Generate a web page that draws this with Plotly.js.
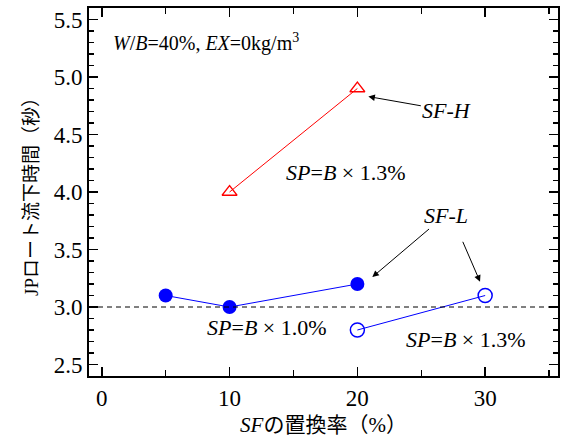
<!DOCTYPE html>
<html>
<head>
<meta charset="utf-8">
<script src="https://cdn.plot.ly/plotly-3.0.1.min.js"></script>
<style>html,body{margin:0;padding:0;background:#fff;}#chart{width:566px;height:439px;}</style>
</head>
<body>
<div id="chart"></div>
<script>
// SF replacement ratio (%) and JP funnel flow time (s)
const sfhX = [10, 20];
const sfhY = [4.0, 4.9];
const sfl10X = [5, 10, 20];
const sfl10Y = [3.1, 3.0, 3.2];
const sfl13X = [20, 30];
const sfl13Y = [2.8, 3.1];
const refLineY = 3.0;
const xTicks = [0, 10, 20, 30];
const yTicks = [2.5, 3.0, 3.5, 4.0, 4.5, 5.0, 5.5];

const serif = 'Liberation Serif, Times New Roman, serif';
const cjk = 'Liberation Serif, Noto Sans CJK JP, serif';

const traces = [
  {
    x: sfhX, y: sfhY, mode: 'lines+markers', type: 'scatter',
    line: {color: '#ff0000', width: 1},
    marker: {symbol: 'triangle-up-open', size: 13, color: '#ff0000', line: {width: 1.3}}
  },
  {
    x: sfl10X, y: sfl10Y, mode: 'lines+markers', type: 'scatter',
    line: {color: '#0000ff', width: 1},
    marker: {symbol: 'circle', size: 14, color: '#0000ff'}
  },
  {
    x: sfl13X, y: sfl13Y, mode: 'lines+markers', type: 'scatter',
    line: {color: '#0000ff', width: 1},
    marker: {symbol: 'circle-open', size: 14, color: '#0000ff', line: {width: 1.5}}
  }
];

const txt = (x, y, text, extra) => Object.assign({
  x: x, y: y, xref: 'x', yref: 'y', text: text, showarrow: false,
  font: {family: serif, size: 22, color: '#000'}
}, extra || {});

// label text placed at the arrow tail, arrow pointing at the marker
const labelArrow = (x, y, ax, ay, text) => ({
  x: x, y: y, ax: ax, ay: ay, xref: 'x', yref: 'y', axref: 'x', ayref: 'y',
  text: text, showarrow: true, arrowhead: 2, arrowsize: 1.3, arrowwidth: 1, arrowcolor: '#000',
  font: {family: serif, size: 22, color: '#000'}
});

const annotations = [
  txt(0.7, 5.3, '<i>W</i>/<i>B</i>=40%, <i>EX</i>=0kg/m<sup>3</sup>', {xanchor: 'left', font: {family: serif, size: 20, color: '#000'}}),
  labelArrow(20.86, 4.83, 27.0, 4.71, '<i>SF-H</i>'),
  txt(19.1, 4.17, '<i>SP</i>=<i>B</i> × 1.3%'),
  labelArrow(21.17, 3.26, 26.9, 3.80, '<i>SF-L</i>'),
  labelArrow(29.6, 3.22, 28.2, 3.58, ''),
  txt(12.9, 2.82, '<i>SP</i>=<i>B</i> × 1.0%'),
  txt(28.5, 2.72, '<i>SP</i>=<i>B</i> × 1.3%')
];

const layout = {
  width: 566, height: 439,
  margin: {l: 89, r: 8, t: 8, b: 63},
  paper_bgcolor: '#fff', plot_bgcolor: '#fff',
  showlegend: false,
  font: {family: serif, color: '#000'},
  xaxis: {
    range: [-1, 35.7], tickmode: 'linear', tick0: xTicks[0], dtick: xTicks[1] - xTicks[0],
    ticks: 'inside', ticklen: 9, tickwidth: 1.5, tickcolor: '#000',
    minor: {ticks: 'inside', dtick: 5, ticklen: 6, tickwidth: 1.5, tickcolor: '#000', showgrid: false},
    showline: true, linecolor: '#000', linewidth: 2, mirror: 'allticks',
    showgrid: false, zeroline: false,
    tickfont: {family: serif, size: 23, color: '#000'},
    title: {text: '<i>SF</i>の置換率（%）', font: {family: cjk, size: 21, color: '#000'}, standoff: 8}
  },
  yaxis: {
    range: [2.4, 5.6], tickmode: 'linear', tick0: yTicks[0], dtick: yTicks[1] - yTicks[0], tickformat: '.1f',
    ticks: 'inside', ticklen: 9, tickwidth: 1.5, tickcolor: '#000',
    minor: {ticks: 'inside', dtick: 0.1, ticklen: 5, tickwidth: 1.5, tickcolor: '#000', showgrid: false},
    showline: true, linecolor: '#000', linewidth: 2, mirror: 'allticks',
    showgrid: false, zeroline: false,
    tickfont: {family: serif, size: 23, color: '#000'},
    title: {text: 'JPロート流下時間（秒）', font: {family: cjk, size: 19, color: '#000'}, standoff: 10}
  },
  shapes: [{
    type: 'line', xref: 'paper', yref: 'y', x0: 0, x1: 1, y0: refLineY, y1: refLineY,
    line: {color: '#000', width: 1, dash: '5px,4px'}
  }],
  annotations: annotations
};

Plotly.newPlot('chart', traces, layout, {displayModeBar: false, staticPlot: true});
</script>
</body>
</html>
